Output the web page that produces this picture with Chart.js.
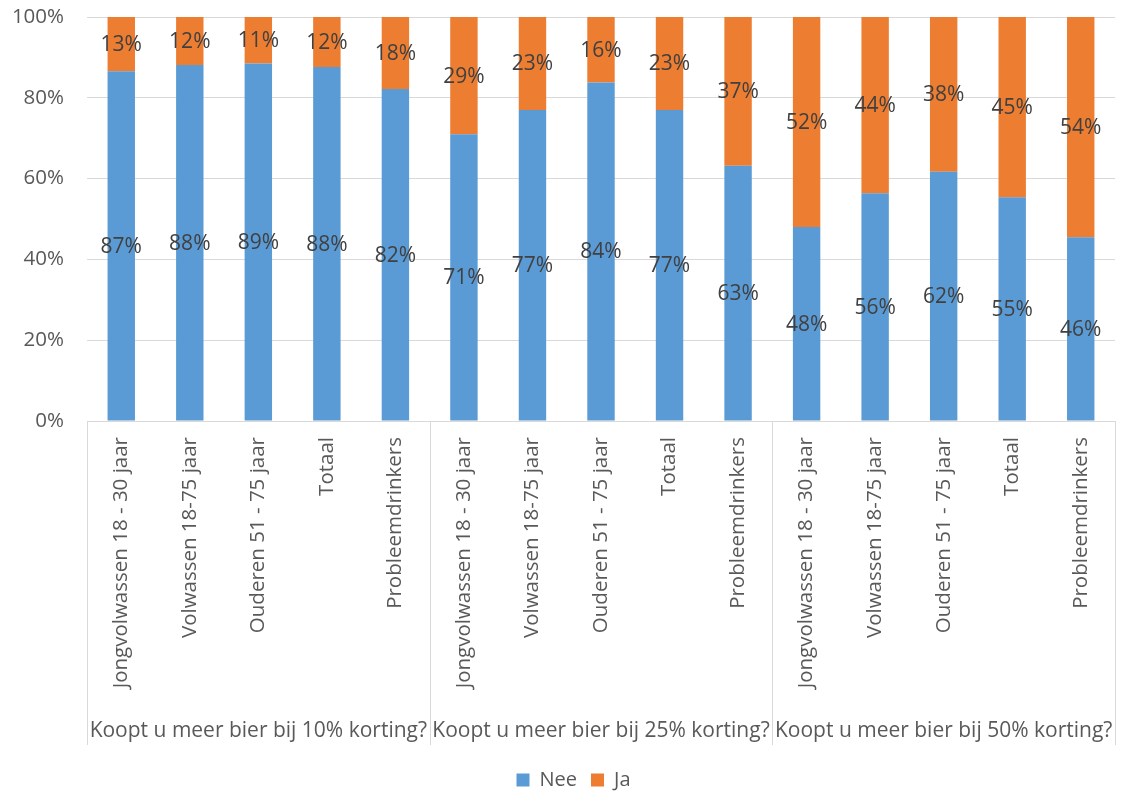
<!DOCTYPE html>
<html>
<head>
<meta charset="utf-8">
<script src="https://cdn.jsdelivr.net/npm/chart.js@4/dist/chart.umd.min.js"></script>
<style>
html,body{margin:0;padding:0;background:#fff;}
#wrap{width:1122px;height:791px;position:relative;}
</style>
</head>
<body>
<div id="wrap"><canvas id="c" width="1122" height="791"></canvas></div>
<script>
const categories = [
  "Jongvolwassen 18 - 30 jaar","Volwassen 18-75 jaar","Ouderen 51 - 75 jaar","Totaal","Probleemdrinkers",
  "Jongvolwassen 18 - 30 jaar","Volwassen 18-75 jaar","Ouderen 51 - 75 jaar","Totaal","Probleemdrinkers",
  "Jongvolwassen 18 - 30 jaar","Volwassen 18-75 jaar","Ouderen 51 - 75 jaar","Totaal","Probleemdrinkers"
];
const groups = [
  "Koopt u meer bier bij 10% korting?",
  "Koopt u meer bier bij 25% korting?",
  "Koopt u meer bier bij 50% korting?"
];
const groupSize = 5;
const neeValues = [86.6, 88.1, 88.5, 87.6, 82.2, 71.0, 77.0, 83.8, 77.0, 63.2, 48.0, 56.4, 61.7, 55.4, 45.5];
const jaValues  = [13.4, 11.9, 11.5, 12.4, 17.8, 29.0, 23.0, 16.2, 23.0, 36.8, 52.0, 43.6, 38.3, 44.6, 54.5];
const neeLabels = [87, 88, 89, 88, 82, 71, 77, 84, 77, 63, 48, 56, 62, 55, 46];
const jaLabels  = [13, 12, 11, 12, 18, 29, 23, 16, 23, 37, 52, 44, 38, 45, 54];
const yTicks = [0, 20, 40, 60, 80, 100];

const FONT = "'Open Sans', 'DejaVu Sans', sans-serif";
const TXT = "#595959";
const GRID = "#d9d9d9";
const SEP_DEPTH = 324;

const labelPlugin = {
  id: 'segLabels',
  afterDatasetsDraw(chart) {
    const ctx = chart.ctx;
    ctx.save();
    ctx.font = "21px " + FONT;
    ctx.fillStyle = "#404040";
    ctx.textAlign = "center";
    ctx.textBaseline = "middle";
    const lbls = [neeLabels, jaLabels];
    chart.data.datasets.forEach((ds, di) => {
      const meta = chart.getDatasetMeta(di);
      meta.data.forEach((bar, i) => {
        const p = bar.getProps(['x','y','base'], true);
        const cy = (p.y + p.base) / 2 + 1;
        ctx.fillText(lbls[di][i] + "%", p.x, cy);
      });
    });
    ctx.restore();
  }
};

const groupPlugin = {
  id: 'groupAxis',
  afterLayout(chart) {
    const l = chart.legend;
    if (l) { l.left += 16; l.right += 16; }
  },
  afterDraw(chart) {
    const ctx = chart.ctx;
    const xs = chart.scales.x;
    const area = chart.chartArea;
    const bottom = area.bottom + SEP_DEPTH;
    ctx.save();
    ctx.strokeStyle = GRID;
    ctx.lineWidth = 1;
    for (let g = 0; g <= groups.length; g++) {
      let x;
      if (g === 0) x = area.left;
      else if (g === groups.length) x = area.right;
      else x = (xs.getPixelForTick(g*groupSize - 1) + xs.getPixelForTick(g*groupSize)) / 2;
      x = Math.round(x) + 0.5;
      ctx.beginPath();
      ctx.moveTo(x, area.bottom);
      ctx.lineTo(x, bottom);
      ctx.stroke();
    }
    ctx.font = "21px " + FONT;
    ctx.fillStyle = TXT;
    ctx.textAlign = "center";
    ctx.textBaseline = "middle";
    groups.forEach((g, gi) => {
      const x0 = xs.getPixelForTick(gi*groupSize);
      const x1 = xs.getPixelForTick(gi*groupSize + groupSize - 1);
      ctx.fillText(g, (x0 + x1) / 2, bottom - 14);
    });
    ctx.restore();
  }
};

function zeroPad(scale) {
  scale.paddingTop = 0; scale.paddingBottom = 0;
}

new Chart(document.getElementById('c'), {
  type: 'bar',
  data: {
    labels: categories,
    datasets: [
      { label: 'Nee', data: neeValues, backgroundColor: '#5B9BD5', barPercentage: 0.4, categoryPercentage: 1.0 },
      { label: 'Ja',  data: jaValues,  backgroundColor: '#ED7D31', barPercentage: 0.4, categoryPercentage: 1.0 }
    ]
  },
  options: {
    responsive: false,
    animation: false,
    devicePixelRatio: 1,
    layout: { padding: { top: 17, right: 7, left: 0, bottom: -9 } },
    plugins: {
      legend: {
        position: 'bottom',
        labels: { font: { family: FONT, size: 20 }, color: TXT, boxWidth: 13, boxHeight: 13, padding: 14 }
      },
      tooltip: { enabled: false }
    },
    scales: {
      x: {
        stacked: true,
        grid: { display: false },
        border: { display: true, color: GRID },
        ticks: {
          autoSkip: false, minRotation: 90, maxRotation: 90,
          font: { family: FONT, size: 20.5 }, color: TXT, padding: 8
        },
        afterFit(scale) { scale.height = 335; zeroPad(scale); }
      },
      y: {
        stacked: true,
        min: 0, max: 100,
        afterBuildTicks(scale) { scale.ticks = yTicks.map(v => ({ value: v })); },
        grid: { color: GRID, drawTicks: false },
        border: { display: false },
        ticks: {
          font: { family: FONT, size: 20.5 }, color: TXT, padding: 23,
          callback: v => v + '%'
        },
        afterFit(scale) { scale.width = 87; zeroPad(scale); }
      }
    }
  },
  plugins: [labelPlugin, groupPlugin]
});
</script>
</body>
</html>
